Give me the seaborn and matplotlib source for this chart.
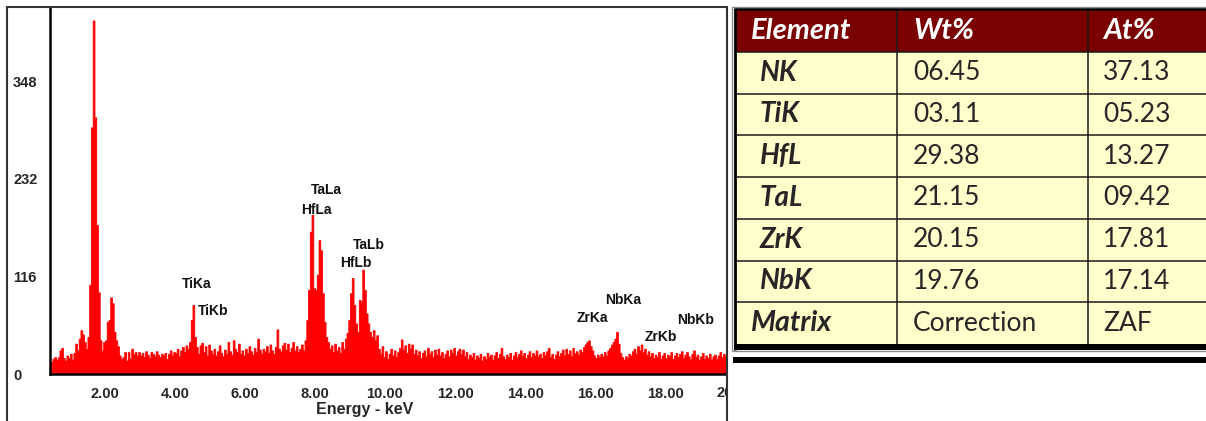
import numpy as np
import pandas as pd
import matplotlib
matplotlib.use("Agg")
import matplotlib.pyplot as plt
import seaborn as sns
from matplotlib.patches import Rectangle
from matplotlib.transforms import Bbox, TransformedBbox, blended_transform_factory

# EDS spectrum, counts per 0.05 keV channel starting at 0.45 keV
E0 = 0.45
STEP = 0.05
counts = [
    14, 18, 20, 17, 20, 28, 31, 19, 16, 22, 19,                                     # 0.45-0.95
    24, 17, 25, 36, 28, 42, 52, 47, 38, 30, 44, 106, 293, 420, 305, 177, 97, 40, 28, 38,  # 1
    40, 62, 64, 91, 84, 50, 40, 33, 22, 18, 20, 26, 16, 26, 18, 30, 24, 26, 22, 26,  # 2
    22, 25, 20, 27, 23, 19, 26, 24, 21, 27, 23, 20, 24, 22, 25, 18, 24, 28, 22, 26,  # 3
    25, 30, 21, 28, 32, 26, 34, 30, 38, 64, 82, 44, 32, 24, 34, 37, 26, 33, 22, 35,  # 4
    28, 24, 30, 22, 27, 34, 25, 21, 29, 24, 38, 27, 23, 40, 30, 26, 36, 24, 28, 22,  # 5
    30, 25, 33, 27, 23, 31, 26, 42, 29, 24, 30, 27, 33, 25, 35, 28, 24, 32, 53, 30,  # 6
    27, 34, 37, 29, 36, 26, 31, 38, 28, 33, 26, 30, 35, 28, 40, 64, 100, 169, 189, 102,  # 7
    100, 118, 159, 147, 96, 62, 44, 38, 30, 34, 26, 36, 28, 32, 25, 38, 30, 42, 49, 64,  # 8
    96, 114, 82, 60, 50, 88, 86, 124, 100, 72, 60, 50, 44, 52, 40, 46, 30, 24, 33, 20,  # 9
    27, 18, 24, 30, 22, 28, 20, 26, 31, 41, 29, 34, 25, 36, 30, 35, 24, 29, 22, 27,  # 10
    19, 25, 28, 21, 31, 24, 27, 20, 29, 23, 30, 22, 26, 19, 24, 28, 21, 29, 25, 31,  # 11
    22, 27, 30, 24, 29, 21, 26, 18, 23, 20, 25, 17, 22, 19, 24, 16, 21, 18, 25, 20,  # 12
    23, 17, 22, 26, 19, 24, 31, 21, 18, 23, 20, 25, 17, 22, 26, 20, 24, 28, 21, 25,  # 13
    19, 23, 27, 20, 25, 22, 28, 21, 24, 19, 26, 22, 27, 31, 20, 24, 18, 23, 27, 21,  # 14
    25, 29, 22, 30, 24, 28, 21, 31, 25, 27, 23, 29, 26, 32, 35, 38, 40, 33, 28, 22,  # 15
    19, 23, 20, 24, 21, 26, 22, 28, 31, 35, 38, 42, 50, 36, 25, 20, 17, 21, 19, 24,  # 16
    22, 27, 30, 24, 33, 28, 35, 26, 30, 23, 27, 21, 25, 19, 23, 20, 26, 18, 22, 25,  # 17
    19, 23, 21, 26, 18, 22, 25, 20, 24, 27, 19, 23, 26, 21, 18, 24, 28, 20, 23, 17,  # 18
    21, 25, 18, 22, 19, 24, 17, 21, 23, 18, 22, 26, 20, 24, 21, 25,                  # 19-19.75
]
energy = E0 + STEP * np.arange(len(counts))

x_ticks = [2, 4, 6, 8, 10, 12, 14, 16, 18]
y_ticks = [0, 116, 232, 348]

peak_names = ["TiKa", "TiKb", "TaLa", "HfLa", "TaLb", "HfLb", "ZrKa", "NbKa", "ZrKb", "NbKb"]

# quantification table
table_header = ["Element", "Wt%", "At%"]
elements = ["NK", "TiK", "HfL", "TaL", "ZrK", "NbK"]
wt_pct = ["06.45", "03.11", "29.38", "21.15", "20.15", "19.76"]
at_pct = ["37.13", "05.23", "13.27", "09.42", "17.81", "17.14"]
matrix_row = ["Matrix", "Correction", "ZAF"]

sns.set_style("white")
plt.rcParams['font.family'] = ['Liberation Sans', 'DejaVu Sans']

W, H = 1206, 421
fig = plt.figure(figsize=(W / 100, H / 100), dpi=100)


def fx(px):
    return px / W


def fy(py):
    return 1 - py / H


# ---- spectrum ----
ax = fig.add_axes([fx(50), fy(374), (725 - 50) / W, (374 - 7) / H])
spec = pd.DataFrame({"energy": energy + STEP / 2, "counts": counts})
sns.histplot(data=spec, x="energy", weights="counts", bins=len(counts),
             binrange=(E0, E0 + STEP * len(counts)), element="step", fill=True,
             color="#ff0000", alpha=1, linewidth=0.6, ax=ax)
ax.set_xlim(0.43, 19.71)
ax.set_ylim(0, 436)
ax.set_xticks(x_ticks)
ax.set_xticklabels([f"{v:.2f}" for v in x_ticks])
ax.set_yticks(y_ticks)
ax.set_yticklabels([str(v) for v in y_ticks])
ax.set_ylabel("")
ax.set_xlabel("Energy - keV", fontsize=11.5, fontweight="bold", va="center")
ax.xaxis.set_label_coords(0.466, -0.098)
sns.despine(ax=ax)
for s in ["left", "bottom"]:
    ax.spines[s].set_color("black")
    ax.spines[s].set_linewidth(1.8)
ax.tick_params(axis="x", length=5, width=1.2, pad=4, labelsize=10.5, color="black")
ax.tick_params(axis="y", length=8, width=1.2, pad=18.6, labelsize=10.5, color="black")
for lbl in ax.get_xticklabels() + ax.get_yticklabels():
    lbl.set_fontweight("bold")
for lbl in ax.get_yticklabels():
    lbl.set_ha("left")

# the 20.00 label is cut by the panel border
clip = TransformedBbox(Bbox.from_extents(0, 0, fx(727), 1), fig.transFigure)
t20 = ax.text(20, -0.033, "20.00", transform=blended_transform_factory(ax.transData, ax.transAxes),
              ha="center", va="top", fontsize=10.5, fontweight="bold")
t20.set_clip_on(True)
t20.set_clip_box(clip)

# peak labels (anchor in keV / counts)
label_pos = [(4.63, 107), (5.09, 75), (8.31, 218), (8.03, 195), (9.54, 153),
             (9.17, 132), (15.91, 66), (16.80, 88), (17.89, 44), (18.86, 64)]
for name, (xe, yc) in zip(peak_names, label_pos):
    ax.text(xe, yc, name, ha="center", va="center", fontsize=10, fontweight="bold", color="#111111")

# left panel frame
fig.patches.append(Rectangle((fx(7), fy(440)), (727 - 7) / W, (440 - 7) / H,
                             transform=fig.transFigure, fill=False, ec="#333333", lw=1.5))

# ---- table ----
tax = fig.add_axes([fx(728), 0, 1 - fx(728), 1])
tax.set_xlim(728, W)
tax.set_ylim(H, 0)
tax.axis("off")

TOP, BOT = 10, 344
ROW_H = (BOT - TOP) / 8
tax.add_patch(Rectangle((732.5, 6.5), 520, 344, fill=False, ec="#8c8c8c", lw=1.0))
tax.add_patch(Rectangle((736, TOP), 520, ROW_H, fc="#7b0000", ec="none"))
tax.add_patch(Rectangle((736, TOP + ROW_H), 520, BOT - TOP - ROW_H, fc="#ffffcc", ec="none"))
for k in range(1, 8):
    tax.hlines(TOP + k * ROW_H, 736, 1230, color="#1a1a1a", lw=1.1)
tax.vlines([897, 1088], TOP, BOT, color="#1a1a1a", lw=1.1)
tax.vlines(735, 8, 350, color="black", lw=2)
tax.hlines(8.5, 735, 1230, color="black", lw=1.8)
tax.add_patch(Rectangle((734, 344), 520, 6, fc="black", ec="none"))
tax.add_patch(Rectangle((733, 357), 520, 6, fc="black", ec="none"))

tfont = ["Lato", "DejaVu Sans"]
col_x = [751, 913, 1103]
for cx, txt in zip(col_x, table_header):
    tax.text(cx, TOP + ROW_H / 2, txt, color="white", fontsize=21, fontweight="bold",
             style="italic", family=tfont, va="center", ha="left")
for i in range(len(elements)):
    yc = TOP + (i + 1.5) * ROW_H
    tax.text(760, yc, elements[i], fontsize=20, fontweight="bold", style="italic",
             family=tfont, va="center", ha="left")
    tax.text(col_x[1], yc, wt_pct[i], fontsize=19, family=tfont, va="center", ha="left")
    tax.text(col_x[2], yc, at_pct[i], fontsize=19, family=tfont, va="center", ha="left")
yc = TOP + 7.5 * ROW_H
tax.text(col_x[0], yc, matrix_row[0], fontsize=20.5, fontweight="bold", style="italic",
         family=tfont, va="center", ha="left")
tax.text(col_x[1], yc, matrix_row[1], fontsize=19, family=tfont, va="center", ha="left")
tax.text(col_x[2], yc, matrix_row[2], fontsize=19, family=tfont, va="center", ha="left")

fig.savefig("out.png", dpi=100)
